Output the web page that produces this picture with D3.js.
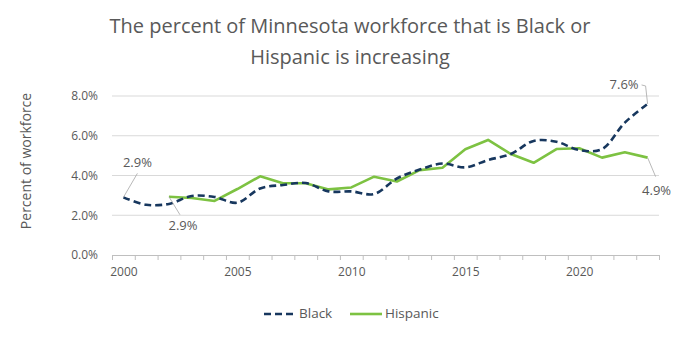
<!DOCTYPE html>
<html><head><meta charset="utf-8">
<script src="https://cdn.jsdelivr.net/npm/d3@7"></script>
<style>body{margin:0;background:#fff}svg{display:block;font-family:"Open Sans",sans-serif}</style>
</head><body><svg id="c" width="700" height="359"></svg>
<script>
const years = d3.range(2000, 2024);
const black = [2.9,2.53,2.57,2.97,2.92,2.63,3.35,3.52,3.62,3.2,3.2,3.07,3.85,4.3,4.6,4.41,4.78,5.08,5.74,5.7,5.28,5.33,6.66,7.6];
const hispanicYears = d3.range(2002, 2024);
const hispanic = [2.93,2.87,2.72,3.32,3.96,3.61,3.61,3.3,3.4,3.94,3.7,4.27,4.39,5.32,5.79,5.08,4.64,5.33,5.37,4.9,5.17,4.9];
const yTicks = [0,2,4,6,8];
const xLabelYears = [2000,2005,2010,2015,2020];
const titleLines = ["The percent of Minnesota workforce that is Black or","Hispanic is increasing"];

const svg = d3.select("#c");
const gray = "#595959";
const x = d3.scaleLinear().domain([1999.5, 2023.5]).range([112, 659]);
const y = d3.scaleLinear().domain([0, 8]).range([255, 96]);

// title
svg.append("text").attr("x", 350).attr("y", 33).attr("text-anchor","middle")
  .attr("font-size", 20).attr("fill", gray)
  .selectAll("tspan").data(titleLines).join("tspan")
  .attr("x", 350).attr("dy", (d,i)=> i? 31 : 0).text(d=>d);

// gridlines
svg.append("g").selectAll("line").data(yTicks.filter(d=>d>0)).join("line")
  .attr("x1", x.range()[0]).attr("x2", x.range()[1])
  .attr("y1", d=>y(d)).attr("y2", d=>y(d))
  .attr("stroke", "#d9d9d9").attr("stroke-width", 1);

// y axis labels
const ya = svg.append("g").attr("transform", `translate(${x.range()[0]},0)`)
  .call(d3.axisLeft(y).tickValues(yTicks).tickSize(0).tickPadding(14).tickFormat(d=>d.toFixed(1)+"%"));
ya.select(".domain").remove();
ya.selectAll("text").attr("font-size", 12).attr("fill", gray).attr("font-family","Open Sans");

// x axis ticks at boundaries
const bounds = d3.range(1999.5, 2024, 1);
const xa = svg.append("g").attr("transform", `translate(0,${y(0)})`)
  .call(d3.axisBottom(x).tickValues(bounds).tickSize(5).tickFormat(""));
xa.select(".domain").attr("stroke", "#bfbfbf");
xa.selectAll(".tick line").attr("stroke", "#bfbfbf");
const xl = svg.append("g").attr("transform", `translate(0,${y(0)})`)
  .call(d3.axisBottom(x).tickValues(xLabelYears).tickSize(0).tickPadding(12).tickFormat(d3.format("d")));
xl.select(".domain").remove();
xl.selectAll("text").attr("font-size", 12).attr("fill", gray).attr("font-family","Open Sans");

// y axis title
svg.append("text").attr("transform", "translate(31,161) rotate(-90)").attr("text-anchor","middle")
  .attr("font-size", 14).attr("fill", gray).text("Percent of workforce");

// lines
const lineB = d3.line().x((d,i)=>x(years[i])).y(d=>y(d)).curve(d3.curveCatmullRom.alpha(0.5));
const lineH = d3.line().x((d,i)=>x(hispanicYears[i])).y(d=>y(d));
svg.append("path").attr("d", lineH(hispanic)).attr("fill","none")
  .attr("stroke","#7dc242").attr("stroke-width",2.6).attr("stroke-linejoin","round");
svg.append("path").attr("d", lineB(black)).attr("fill","none")
  .attr("stroke","#17375e").attr("stroke-width",2.6).attr("stroke-dasharray","7,4");

// callouts
const lab = svg.append("g").attr("font-size", 13).attr("fill", gray);
function callout(px, py, pts, tx, ty, anchor, txt){
  svg.append("polyline").attr("points", [[px,py],...pts].map(p=>p.join(",")).join(" "))
    .attr("fill","none").attr("stroke","#a6a6a6").attr("stroke-width",0.8);
  lab.append("text").attr("x",tx).attr("y",ty).attr("text-anchor",anchor).attr("dominant-baseline","middle").text(txt);
}
const b0x = x(years[0]), b0y = y(black[0]);
callout(b0x, b0y, [[b0x+14, b0y-24]], b0x+14, b0y-34, "middle", black[0].toFixed(1)+"%");
const h0x = x(hispanicYears[0]), h0y = y(hispanic[0]);
callout(h0x, h0y, [[h0x+11, h0y+18]], h0x+14, h0y+30, "middle", hispanic[0].toFixed(1)+"%");
const bLx = x(years[years.length-1]), bLy = y(black[black.length-1]);
callout(bLx, bLy, [[bLx-2, bLy-18],[bLx-6, bLy-19]], bLx-9, bLy-18, "end", black[black.length-1].toFixed(1)+"%");
const hLx = x(hispanicYears[hispanicYears.length-1]), hLy = y(hispanic[hispanic.length-1]);
callout(hLx, hLy, [[hLx+8, hLy+19]], hLx+9, hLy+34, "middle", hispanic[hispanic.length-1].toFixed(1)+"%");

// legend
const lg = svg.append("g").attr("font-size", 13.5).attr("fill", gray);
lg.append("line").attr("x1",264).attr("x2",293).attr("y1",314).attr("y2",314)
  .attr("stroke","#17375e").attr("stroke-width",2.6).attr("stroke-dasharray","7,4");
lg.append("text").attr("x",299).attr("y",314).attr("dominant-baseline","middle").text("Black");
lg.append("line").attr("x1",350).attr("x2",382).attr("y1",314).attr("y2",314)
  .attr("stroke","#7dc242").attr("stroke-width",2.6);
lg.append("text").attr("x",385).attr("y",314).attr("dominant-baseline","middle").text("Hispanic");
</script></body></html>
